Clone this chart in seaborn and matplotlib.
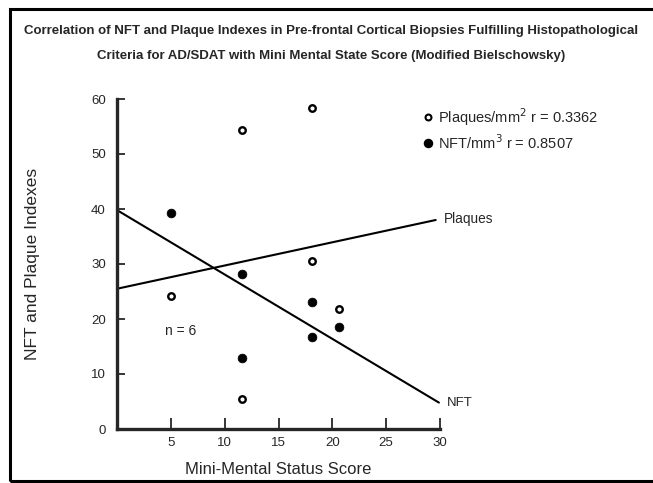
import matplotlib
matplotlib.use("Agg")
import matplotlib.pyplot as plt
import seaborn as sns
import pandas as pd
from matplotlib.patches import Rectangle

# ── data ─────────────────────────────────────────────────────────────────────
mmse_plaque = [5.0, 11.6, 11.6, 18.1, 18.1, 20.6]
plaques     = [24.2, 54.4, 5.4, 58.4, 30.5, 21.9]
mmse_nft    = [5.0, 11.6, 11.6, 18.1, 18.1, 20.6]
nft         = [39.3, 28.2, 13.0, 23.1, 16.7, 18.5]

# fitted lines (end points as drawn)
fit_x_plaque = [0.0, 29.6]
fit_y_plaque = [25.5, 38.0]
fit_x_nft    = [0.0, 29.9]
fit_y_nft    = [39.8, 4.8]

x_ticks = [5, 10, 15, 20, 25, 30]
y_ticks = [0, 10, 20, 30, 40, 50, 60]

title = ("Correlation of NFT and Plaque Indexes in Pre-frontal Cortical Biopsies "
         "Fulfilling Histopathological\nCriteria for AD/SDAT with Mini Mental State "
         "Score (Modified Bielschowsky)")

sns.set_style("ticks")
plt.rcParams["font.family"] = ["Liberation Sans", "DejaVu Sans"]

fig = plt.figure(figsize=(6.53, 4.83), dpi=100)
ax = fig.add_axes([117 / 653, 1 - 429 / 483, 323 / 653, 330 / 483])

df_p = pd.DataFrame({"x": mmse_plaque, "y": plaques})
df_n = pd.DataFrame({"x": mmse_nft, "y": nft})

sns.lineplot(x=fit_x_plaque, y=fit_y_plaque, color="black", lw=1.5, ax=ax)
sns.lineplot(x=fit_x_nft, y=fit_y_nft, color="black", lw=1.5, ax=ax)
sns.scatterplot(data=df_p, x="x", y="y", marker="o", s=22, facecolor="white",
                edgecolor="black", linewidth=1.7, ax=ax, zorder=3, clip_on=False)
sns.scatterplot(data=df_n, x="x", y="y", marker="o", s=40, color="black",
                edgecolor="black", linewidth=0.5, ax=ax, zorder=3, clip_on=False)

ax.set_xlim(0, 30)
ax.set_ylim(0, 60)
ax.set_xticks(x_ticks)
ax.set_yticks(y_ticks)
ax.tick_params(axis="x", direction="in", length=8, width=1.3, labelsize=9.5, pad=6)
ax.tick_params(axis="y", direction="in", length=6, width=1.3, labelsize=9.5, pad=8)
sns.despine(ax=ax)
ax.spines["left"].set_linewidth(2.4)
ax.spines["bottom"].set_linewidth(2.4)

ax.set_xlabel("Mini-Mental Status Score", fontsize=12, labelpad=9)
ax.set_ylabel("NFT and Plaque Indexes", fontsize=12.5, labelpad=37)

# annotations
ax.text(4.5, 17.8, "n = 6", fontsize=10, va="center", ha="left")
ax.text(30.4, 38.2, "Plaques", fontsize=9.8, va="center", ha="left", clip_on=False)
ax.text(30.6, 4.7, "NFT", fontsize=9.5, va="center", ha="left", clip_on=False)

# legend-style key
ax.scatter([28.9], [56.7], s=18, facecolor="white", edgecolor="black",
           linewidth=1.5, clip_on=False, zorder=3)
ax.text(29.8, 56.7, "Plaques/mm$^2$ r = 0.3362", fontsize=10.5, va="center", ha="left")
ax.scatter([28.9], [52.0], s=34, color="black", clip_on=False, zorder=3)
ax.text(29.8, 52.0, "NFT/mm$^3$ r = 0.8507", fontsize=10.5, va="center", ha="left")

fig.text(331 / 653, 1 - 43.5 / 483, title, ha="center", va="center",
         fontsize=9.55, fontweight="bold", linespacing=2.45)

# frame around the figure (open on the right, as in the scan)
fig.patches.append(Rectangle((10 / 653, 1 - 481 / 483), 760 / 653, 472 / 483,
                             transform=fig.transFigure, fill=False,
                             edgecolor="black", lw=2.2))

fig.savefig("out.png", dpi=100)
